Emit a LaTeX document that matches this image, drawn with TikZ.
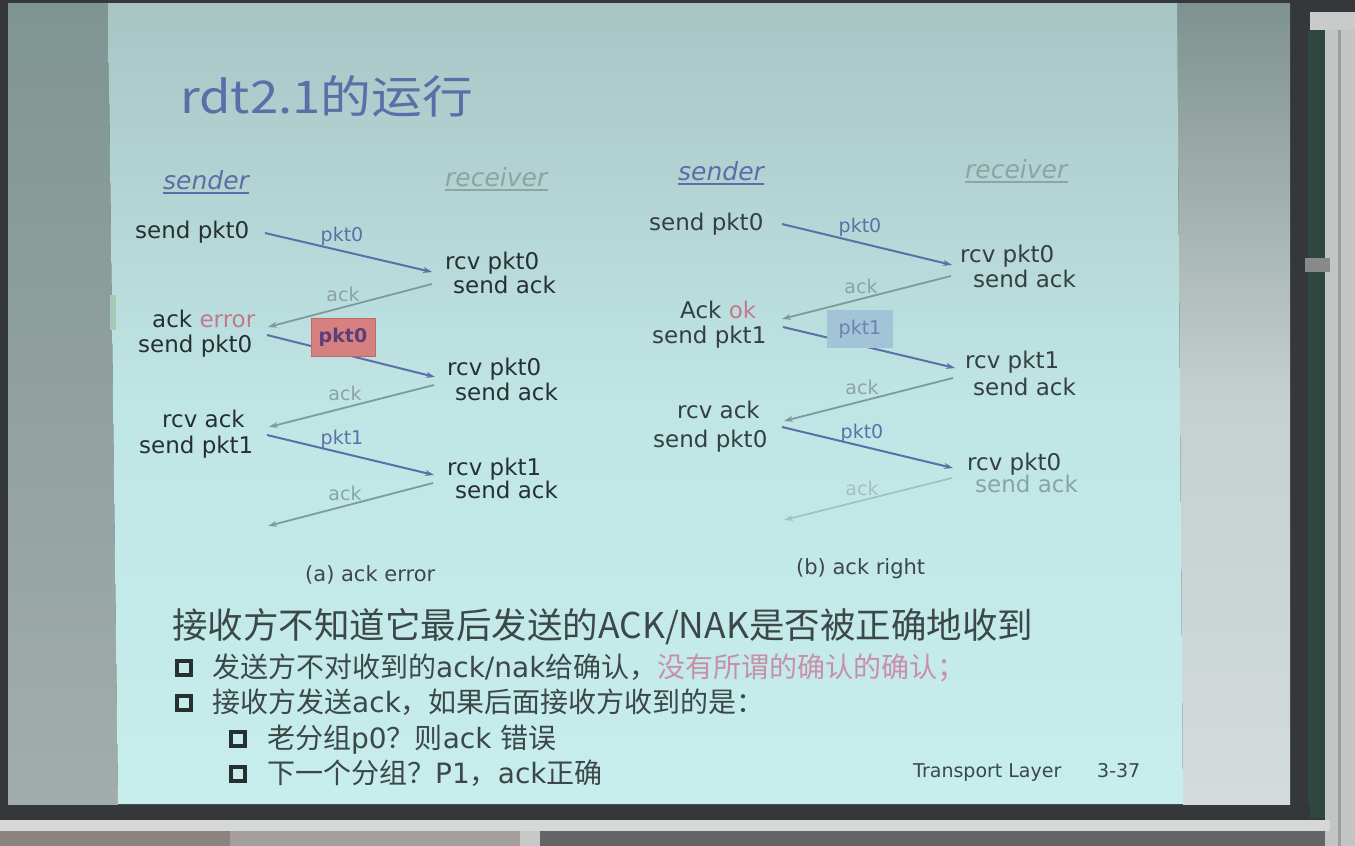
\documentclass[tikz,border=0pt]{standalone}
\usepackage{fontspec}
\usepackage{graphicx}
\setmainfont{DejaVu Sans}
\newfontfamily\cjk{Noto Sans CJK SC}
\usetikzlibrary{arrows.meta}

% palette
\definecolor{frameDark}{HTML}{34383A}
\definecolor{sideTop}{HTML}{7F9592}
\definecolor{sideBot}{HTML}{A2ADAB}
\definecolor{slideTop}{HTML}{A8C5C4}
\definecolor{slideMid}{HTML}{C0E5E5}
\definecolor{slideBot}{HTML}{C8EDED}
\definecolor{screenTop}{HTML}{7E9290}
\definecolor{screenMid}{HTML}{C6D0D0}
\definecolor{screenBot}{HTML}{D3DBDB}
\definecolor{board}{HTML}{2E4741}
\definecolor{wall}{HTML}{C2C5C4}
\definecolor{rail}{HTML}{D6D8D8}
\definecolor{floorA}{HTML}{8C8280}
\definecolor{floorB}{HTML}{A49E9C}
\definecolor{floorC}{HTML}{C8C8C8}
\definecolor{floorD}{HTML}{626466}
\definecolor{edgeMark}{HTML}{A8C8B8}
\definecolor{ink}{HTML}{263030}
\definecolor{inkB}{HTML}{34403F}
\definecolor{titleBlue}{HTML}{5A6EA8}
\definecolor{pktBlue}{HTML}{5B70A7}
\definecolor{ackGrey}{HTML}{7E9A9A}
\definecolor{ackLabel}{HTML}{8CA3A3}
\definecolor{ackFaint}{HTML}{A6C0C0}
\definecolor{sendFaint}{HTML}{8AA3A3}
\definecolor{recvGrey}{HTML}{8EA3A3}
\definecolor{errPink}{HTML}{C27A8C}
\definecolor{noteGrey}{HTML}{3C4848}
\definecolor{notePink}{HTML}{C890A8}
\definecolor{redBox}{HTML}{D6807F}
\definecolor{redBoxText}{HTML}{5B3F7A}
\definecolor{blueBox}{HTML}{A3C3D6}
\definecolor{blueBoxText}{HTML}{6B82B0}

\begin{document}
\begin{tikzpicture}[x=1pt,y=-1pt,
  txt/.style={anchor=base west, inner sep=0pt, text=ink, font=\fontsize{23}{26}\selectfont},
  txtb/.style={txt, text=inkB},
  role/.style={anchor=base west, inner sep=0pt, font=\fontsize{25}{28}\selectfont\itshape},
  lab/.style={inner sep=0pt, font=\fontsize{19}{22}\selectfont},
  pktline/.style={draw=pktBlue, line width=2pt, -{Stealth[length=9pt,width=6pt]}},
  ackline/.style={draw=ackGrey, line width=1.8pt, -{Stealth[length=9pt,width=6pt]}},
  caption/.style={anchor=base west, inner sep=0pt, text=noteGrey, font=\fontsize{21}{24}\selectfont},
  note/.style={anchor=base west, inner sep=0pt, text=noteGrey, font=\fontsize{28}{32}\selectfont},
  sq/.style={draw=ink, line width=3.2pt, minimum size=14pt, inner sep=0pt},
  boxlab/.style={minimum width=64pt, minimum height=38pt, inner sep=0pt, font=\fontsize{19}{22}\selectfont}]
\useasboundingbox (0,0) rectangle (1355,846);

% ---- room and screen ----
\fill[frameDark] (0,0) rectangle (1355,846);
\shade[top color=sideTop, bottom color=sideBot] (8,3) -- (108,3) -- (118,805) -- (8,805) -- cycle;
\shade[top color=screenTop, bottom color=screenBot, middle color=screenMid] (1177,3) -- (1290,3) -- (1290,805) -- (1183,805) -- cycle;
\shade[top color=slideTop, bottom color=slideBot, middle color=slideMid] (108,3) -- (1177,3) -- (1183,804) -- (118,804) -- cycle;
\fill[board] (1308,30) rectangle (1325,818);
\fill[wall] (1325,12) rectangle (1355,846);
\fill[wall!80!black] (1338,12) rectangle (1341,846);
\fill[wall!90!white] (1310,12) rectangle (1355,30);
\fill[wall!70!black] (1305,258) rectangle (1330,272);
\fill[frameDark] (0,805) rectangle (1310,820);
\fill[rail] (0,820) rectangle (1330,831);
\fill[floorA] (0,831) rectangle (540,846);
\fill[floorB] (230,831) rectangle (520,846);
\fill[floorC] (520,831) rectangle (540,846);
\fill[floorD] (540,831) rectangle (1325,846);
\fill[edgeMark] (110,295) rectangle (116,330);

% ---- title ----
\node[anchor=base west, inner sep=0pt, text=titleBlue] (title) at (180,113)
  {\fontsize{45}{50}\selectfont\cjk\scalebox{1.13}[1]{rdt2.1的运行}};

% ---- (a) ack error ----
\node[role, text=titleBlue] (aS) at (163,189) {sender};
\node[role, text=recvGrey] (aR) at (445,186) {receiver};
\draw[titleBlue, line width=1.5pt] ([yshift=-4pt]aS.base west) -- ([yshift=-4pt]aS.base east);
\draw[recvGrey, line width=1.5pt] ([yshift=-4pt]aR.base west) -- ([yshift=-4pt]aR.base east);

\node[txt] (a1) at (135,238) {send pkt0};
\node[txt] (a2) at (445,269) {rcv pkt0};
\node[txt] (a3) at (453,293) {send ack};
\node[txt] (a4) at (152,327) {ack \textcolor{errPink}{error}};
\node[txt] (a5) at (138,352) {send pkt0};
\node[txt] (a6) at (447,375) {rcv pkt0};
\node[txt] (a7) at (455,400) {send ack};
\node[txt] (a8) at (162,427) {rcv ack};
\node[txt] (a9) at (139,453) {send pkt1};
\node[txt] (a10) at (447,475) {rcv pkt1};
\node[txt] (a11) at (455,498) {send ack};

\coordinate (ap1s) at (265,233); \coordinate (ap1e) at (432,272);
\coordinate (aa1s) at (432,284); \coordinate (aa1e) at (268,327);
\coordinate (ap2s) at (267,335); \coordinate (ap2e) at (435,377);
\coordinate (aa2s) at (434,385); \coordinate (aa2e) at (269,427);
\coordinate (ap3s) at (267,435); \coordinate (ap3e) at (434,475);
\coordinate (aa3s) at (433,483); \coordinate (aa3e) at (268,526);

\draw[pktline] (ap1s) -- (ap1e);
\draw[ackline] (aa1s) -- (aa1e);
\draw[pktline] (ap2s) -- (ap2e);
\draw[ackline] (aa2s) -- (aa2e);
\draw[pktline] (ap3s) -- (ap3e);
\draw[ackline] (aa3s) -- (aa3e);

\node[lab, text=pktBlue] (al1) at (342,236) {pkt0};
\node[lab, text=ackLabel] (al2) at (343,294) {ack};
\node[boxlab, fill=redBox, draw=redBox!85!black, line width=0.6pt, text=redBoxText] (abox) at (343,337) {\bfseries pkt0};
\node[lab, text=ackLabel] (al3) at (345,393) {ack};
\node[lab, text=pktBlue] (al4) at (342,439) {pkt1};
\node[lab, text=ackLabel] (al5) at (345,493) {ack};

\node[caption] (capA) at (305,581) {(a) ack error};

% ---- (b) ack right ----
\node[role, text=titleBlue] (bS) at (678,180) {sender};
\node[role, text=recvGrey] (bR) at (965,178) {receiver};
\draw[titleBlue, line width=1.5pt] ([yshift=-4pt]bS.base west) -- ([yshift=-4pt]bS.base east);
\draw[recvGrey, line width=1.5pt] ([yshift=-4pt]bR.base west) -- ([yshift=-4pt]bR.base east);

\node[txtb] (b1) at (649,230) {send pkt0};
\node[txtb] (b2) at (960,262) {rcv pkt0};
\node[txtb] (b3) at (973,287) {send ack};
\node[txtb] (b4) at (680,318) {Ack \textcolor{errPink}{ok}};
\node[txtb] (b5) at (652,343) {send pkt1};
\node[txtb] (b6) at (965,368) {rcv pkt1};
\node[txtb] (b7) at (973,395) {send ack};
\node[txtb] (b8) at (677,418) {rcv ack};
\node[txtb] (b9) at (653,447) {send pkt0};
\node[txtb] (b10) at (967,470) {rcv pkt0};
\node[txtb, text=sendFaint] (b11) at (975,492) {send ack};

\coordinate (bp1s) at (782,224); \coordinate (bp1e) at (952,265);
\coordinate (ba1s) at (951,276); \coordinate (ba1e) at (782,319);
\coordinate (bp2s) at (783,327); \coordinate (bp2e) at (955,368);
\coordinate (ba2s) at (953,378); \coordinate (ba2e) at (784,421);
\coordinate (bp3s) at (782,427); \coordinate (bp3e) at (953,468);
\coordinate (ba3s) at (952,478); \coordinate (ba3e) at (784,520);

\draw[pktline] (bp1s) -- (bp1e);
\draw[ackline] (ba1s) -- (ba1e);
\draw[pktline] (bp2s) -- (bp2e);
\draw[ackline] (ba2s) -- (ba2e);
\draw[pktline] (bp3s) -- (bp3e);
\draw[ackline, draw=ackFaint] (ba3s) -- (ba3e);

\node[lab, text=pktBlue] (bl1) at (860,227) {pkt0};
\node[lab, text=ackLabel] (bl2) at (861,286) {ack};
\node[boxlab, fill=blueBox, minimum width=66pt, text=blueBoxText] (bbox) at (860,329) {pkt1};
\node[lab, text=ackLabel] (bl3) at (862,387) {ack};
\node[lab, text=pktBlue] (bl4) at (862,433) {pkt0};
\node[lab, text=ackFaint] (bl5) at (862,488) {ack};

\node[caption] (capB) at (796,574) {(b) ack right};

% ---- notes ----
\node[anchor=base west, inner sep=0pt, text=noteGrey] (n0) at (172,638)
  {\fontsize{35.5}{40}\selectfont\cjk 接收方不知道它最后发送的ACK/NAK是否被正确地收到};

\node[sq] (q1) at (184,668) {};
\node[note] (n1) at (212,677)
  {{\cjk 发送方不对收到的}ack/nak{\cjk 给确认，}\textcolor{notePink}{\cjk 没有所谓的确认的确认；}};
\node[sq] (q2) at (184,703) {};
\node[note] (n2) at (212,712) {{\cjk 接收方发送}ack{\cjk ，如果后面接收方收到的是：}};
\node[sq] (q3) at (238,739) {};
\node[note] (n3) at (267,748) {{\cjk 老分组}p0{\cjk ？则}ack {\cjk 错误}};
\node[sq] (q4) at (238,774) {};
\node[note] (n4) at (267,783) {{\cjk 下一个分组？}P1{\cjk ，}ack{\cjk 正确}};

\node[anchor=base west, inner sep=0pt, text=noteGrey, font=\fontsize{19}{22}\selectfont] (foot) at (913,777) {Transport Layer};
\node[anchor=base west, inner sep=0pt, text=noteGrey, font=\fontsize{19}{22}\selectfont] (page) at (1097,777) {3-37};
\end{tikzpicture}
\end{document}
